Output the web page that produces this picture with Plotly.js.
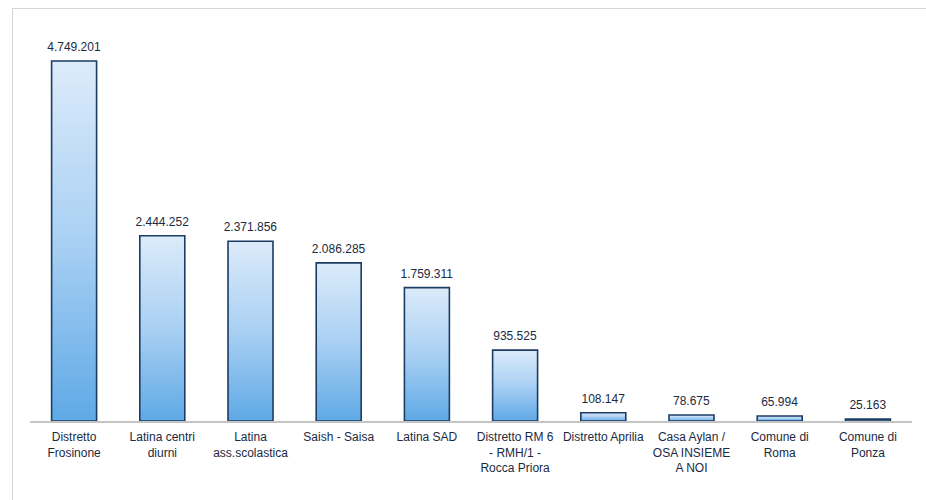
<!DOCTYPE html>
<html>
<head>
<meta charset="utf-8">
<script src="https://cdn.plot.ly/plotly-3.0.1.min.js"></script>
<style>
  html, body { margin: 0; padding: 0; background: #fff; overflow: hidden; }
  #wrap { position: relative; width: 926px; height: 500px; }
  #frame { position: absolute; left: 12px; top: 8px; width: 930px; height: 510px;
           border-left: 1.5px solid #d6d6d6; border-top: 1.5px solid #d6d6d6; pointer-events: none; }
  #chart { position: absolute; left: 0; top: 0; width: 926px; height: 500px; }
</style>
</head>
<body>
<div id="wrap">
  <div id="chart"></div>
  <div id="frame"></div>
</div>
<script>
const categories = [
  "Distretto<br>Frosinone",
  "Latina centri<br>diurni",
  "Latina<br>ass.scolastica",
  "Saish - Saisa",
  "Latina SAD",
  "Distretto RM 6<br>- RMH/1 -<br>Rocca Priora",
  "Distretto Aprilia",
  "Casa Aylan /<br>OSA INSIEME<br>A NOI",
  "Comune di<br>Roma",
  "Comune di<br>Ponza"
];
const values = [4749201, 2444252, 2371856, 2086285, 1759311, 935525, 108147, 78675, 65994, 25163];

const trace = {
  type: "bar",
  x: categories,
  y: values,
  width: 0.51,
  marker: { color: "#9cccf2", line: { color: "#1b3d63", width: 1.6 } },
  texttemplate: "%{y:,.0f}",
  textposition: "outside",
  constraintext: "none",
  cliponaxis: false,
  textfont: { family: "Liberation Sans, Arial, sans-serif", size: 12, color: "#1a2a42" },
  hoverinfo: "none"
};

const layout = {
  width: 926, height: 500,
  margin: { l: 30, r: 14, t: 42, b: 79 },
  separators: ",.",
  paper_bgcolor: "rgba(0,0,0,0)",
  plot_bgcolor: "rgba(0,0,0,0)",
  showlegend: false,
  bargap: 0.49,
  xaxis: {
    type: "category",
    showline: true, linecolor: "#c4c4c4", linewidth: 1.5,
    showgrid: false, zeroline: false, ticks: "",
    ticklabelstandoff: 4,
    tickfont: { family: "Liberation Sans, Arial, sans-serif", size: 12, color: "#1a2a42" },
    tickangle: 0
  },
  yaxis: {
    range: [0, 5000000], visible: false, showgrid: false, zeroline: false
  },
  font: { family: "Liberation Sans, Arial, sans-serif" }
};

Plotly.newPlot("chart", [trace], layout, { staticPlot: true, displayModeBar: false }).then(function (gd) {
  const svg = gd.querySelector("svg.main-svg");
  const ns = "http://www.w3.org/2000/svg";
  let defs = svg.querySelector("defs");
  if (!defs) { defs = document.createElementNS(ns, "defs"); svg.insertBefore(defs, svg.firstChild); }
  const grad = document.createElementNS(ns, "linearGradient");
  grad.setAttribute("id", "barGrad");
  grad.setAttribute("x1", "0"); grad.setAttribute("y1", "0");
  grad.setAttribute("x2", "0"); grad.setAttribute("y2", "1");
  [["0", "#dcebfa"], ["0.5", "#a9d0f3"], ["1", "#5fa9e6"]].forEach(function (s) {
    const st = document.createElementNS(ns, "stop");
    st.setAttribute("offset", s[0]);
    st.setAttribute("stop-color", s[1]);
    grad.appendChild(st);
  });
  defs.appendChild(grad);
  gd.querySelectorAll(".bars .point path").forEach(function (p) {
    p.style.fill = "url(#barGrad)";
  });
  gd.querySelectorAll(".bars .point text").forEach(function (t) {
    const tr = t.getAttribute("transform") || "";
    t.setAttribute("transform", "translate(0,-4) " + tr);
  });
});
</script>
</body>
</html>
